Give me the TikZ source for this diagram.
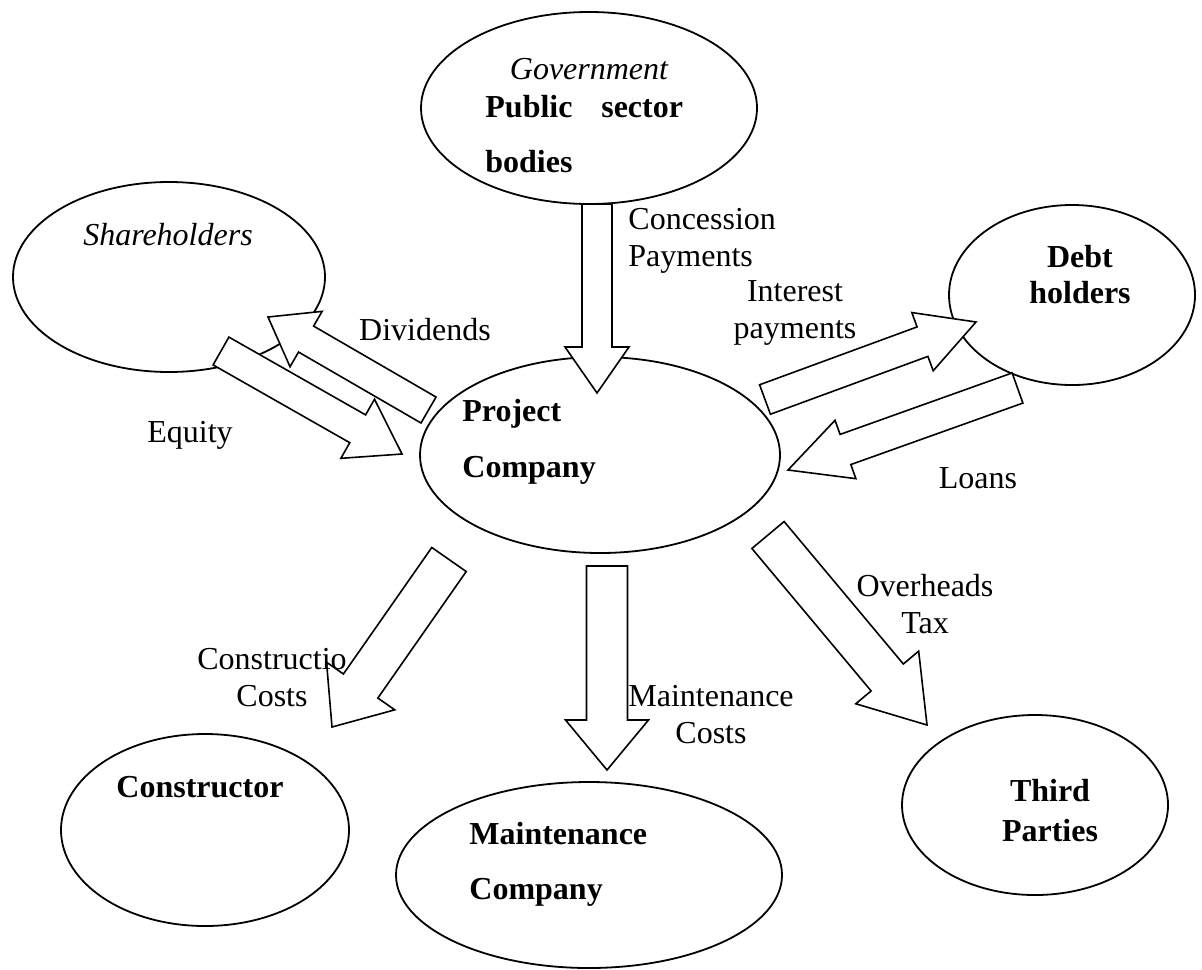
\documentclass[tikz,border=0pt]{standalone}
\usepackage{fontspec}
\setmainfont{Liberation Serif}
\usetikzlibrary{shapes.geometric,calc}

\newcommand{\flowarrow}[5]{%
\coordinate (hb) at ($(#2)!#4!(#1)$);
\draw[flow] ($(#1)!#3!90:(#2)$) -- ($(hb)!#3!-90:(#1)$) -- ($(hb)!#5!-90:(#1)$) -- (#2)
  -- ($(hb)!#5!90:(#1)$) -- ($(hb)!#3!90:(#1)$) -- ($(#1)!#3!-90:(#2)$) -- cycle;}

\begin{document}
\begin{tikzpicture}[x=0.5pt,y=-0.5pt,
  party/.style={draw,ellipse,line width=0.9pt,inner sep=0pt},
  flow/.style={draw,fill=white,line width=0.8pt,line join=miter},
  lbl/.style={inner sep=0pt,align=center,font=\fontsize{16}{18.5}\selectfont}]
\useasboundingbox (0,0) rectangle (1202,969);
\draw (589,108) node (gov) [party,minimum width=168pt,minimum height=96pt] {};
\draw (169,277) node (share) [party,minimum width=156pt,minimum height=95pt] {};
\draw (1072,295) node (debt) [party,minimum width=123pt,minimum height=90pt] {};
\draw (600,455) node (proj) [party,minimum width=180pt,minimum height=98pt] {};
\draw (205,830) node (cons) [party,minimum width=144pt,minimum height=96pt] {};
\draw (589,875) node (maint) [party,minimum width=193pt,minimum height=93pt] {};
\draw (1035,805) node (third) [party,minimum width=133pt,minimum height=90pt] {};
\draw (589,69) node (govname) [lbl] {\itshape Government};
\draw (485,107) node (govbody) [lbl,anchor=west] {\bfseries Public\hspace{0.9em}sector};
\draw (485,162) node (govbody2) [lbl,anchor=west] {\bfseries bodies};
\draw (168,235) node (sharename) [lbl] {\itshape Shareholders};
\draw (1080,275) node (debtname) [lbl,font=\fontsize{16}{18}\selectfont\bfseries] {Debt\\holders};
\draw (462,442) node (projname) [lbl,align=left,anchor=west,font=\fontsize{16}{28}\selectfont\bfseries] {Project\\Company};
\draw (200,787) node (consname) [lbl] {\bfseries Constructor};
\draw (469,864) node (maintname) [lbl,align=left,anchor=west,font=\fontsize{16}{27.5}\selectfont\bfseries] {Maintenance\\Company};
\draw (1050,811) node (thirdname) [lbl,font=\fontsize{16}{20}\selectfont\bfseries] {Third\\Parties};
\coordinate (conc-s) at (597,204); \coordinate (conc-e) at (597,393);
\coordinate (mcost-s) at (607,566); \coordinate (mcost-e) at (607,770);
\coordinate (intr-s) at (765,399.5); \coordinate (intr-e) at (976,322);
\coordinate (loan-s) at (1017.5,388); \coordinate (loan-e) at (788,470);
\coordinate (divd-s) at (428.5,410); \coordinate (divd-e) at (268,317);
\coordinate (eqty-s) at (221,351); \coordinate (eqty-e) at (402,454);
\coordinate (ccost-s) at (449,559.5); \coordinate (ccost-e) at (332,727);
\coordinate (ovhd-s) at (768,535); \coordinate (ovhd-e) at (927,725);
\flowarrow{conc-s}{conc-e}{7.5pt}{23pt}{16pt}
\flowarrow{mcost-s}{mcost-e}{10.25pt}{25pt}{20.75pt}
\flowarrow{intr-s}{intr-e}{7.85pt}{28.5pt}{15.5pt}
\flowarrow{loan-s}{loan-e}{8pt}{30.5pt}{15.5pt}
\flowarrow{divd-s}{divd-e}{7.5pt}{22pt}{16pt}
\flowarrow{eqty-s}{eqty-e}{8pt}{25.5pt}{17pt}
\flowarrow{ccost-s}{ccost-e}{10.5pt}{25pt}{20.8pt}
\flowarrow{ovhd-s}{ovhd-e}{10.5pt}{31pt}{20.5pt}
\draw (628,241) node (concname) [lbl,align=left,anchor=west] {Concession\\Payments};
\draw (795,313) node (intrname) [lbl] {Interest\\payments};
\draw (425,330) node (divdname) [lbl] {Dividends};
\draw (190,435) node (eqtyname) [lbl] {Equity};
\draw (978,478) node (loanname) [lbl] {Loans};
\draw (272,678) node (ccostname) [lbl] {Constructio\\Costs};
\draw (711,715) node (mcostname) [lbl] {Maintenance\\Costs};
\draw (925,604) node (ovhdname) [lbl] {Overheads\\Tax};
\end{tikzpicture}
\end{document}
